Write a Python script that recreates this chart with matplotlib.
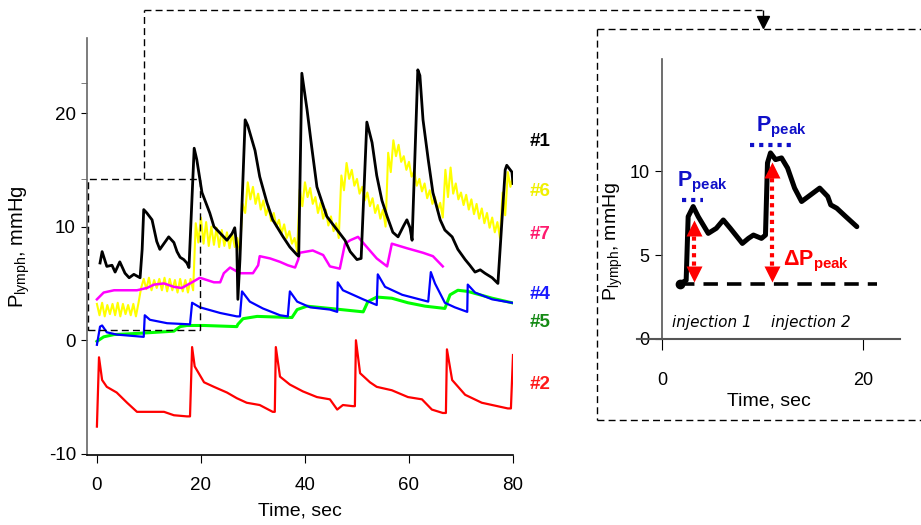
import numpy as np
import matplotlib
matplotlib.use("Agg")
import matplotlib.pyplot as plt
from matplotlib.lines import Line2D

plt.rcParams['font.family'] = ['Liberation Sans', 'DejaVu Sans']
plt.rcParams['mathtext.fontset'] = 'custom'
plt.rcParams['mathtext.rm'] = 'Liberation Sans'
plt.rcParams['mathtext.it'] = 'Liberation Sans:italic'
plt.rcParams['mathtext.bf'] = 'Liberation Sans:bold'
plt.rcParams['axes.unicode_minus'] = False

# ---- main panel traces (time in sec, pressure in mmHg) ----
t1 = [0.6, 1.0, 1.9, 2.9, 3.5, 4.4, 5.4, 6.2, 7.1, 8.3, 8.7, 9.0, 9.6, 10.6, 11.5, 12.1,
      13.8, 14.8, 15.4, 16.0, 16.7, 17.3, 17.7, 18.7, 19.2, 20.2, 21.7, 22.5, 25.0, 26.0,
      26.5, 26.9, 27.1, 27.5, 28.5, 29.0, 30.4, 31.3, 32.7, 33.8, 35.8, 37.1, 38.5, 38.8,
      39.4, 40.4, 41.3, 42.3, 44.2, 46.2, 47.7, 48.7, 50.0, 50.8, 51.9, 52.9, 53.8, 54.8,
      55.8, 56.9, 57.9, 59.0, 59.6, 60.2, 60.6, 61.7, 62.1, 62.7, 63.7, 64.6, 66.0, 66.9,
      68.3, 69.4, 70.8, 71.7, 72.7, 73.7, 74.6, 76.0, 77.1, 78.5, 78.8, 79.8, 80.0]
p1 = [6.8, 7.8, 6.5, 6.6, 6.0, 6.9, 5.9, 5.5, 5.8, 5.5, 8.0, 11.5, 11.2, 10.6, 8.7, 8.0,
      9.1, 8.6, 7.8, 7.3, 7.1, 6.8, 6.4, 16.9, 15.9, 13.0, 11.2, 10.0, 8.8, 9.4,
      9.9, 8.2, 3.6, 7.1, 19.4, 18.9, 16.7, 14.4, 12.1, 10.6, 9.1, 8.2, 7.5, 7.4,
      23.5, 20.3, 17.0, 13.5, 10.9, 9.7, 8.8, 7.8, 7.1, 7.2, 19.2, 17.4, 14.5, 12.3,
      10.9, 9.5, 9.1, 10.1, 10.6, 9.9, 8.8, 23.8, 23.3, 19.4, 15.9, 13.0, 10.6, 9.7,
      9.1, 8.0, 7.1, 6.6, 6.0, 6.2, 5.9, 5.5, 5.0, 15.0, 15.4, 14.8, 13.8]

# #6 is a noisy trace: upper values at whole seconds, lower values half a second later
t6 = np.arange(0, 81)
p6_hi = [3.2, 3.3, 3.1, 3.2, 3.3, 3.2, 3.1, 3.2, 3.3,
         5.4, 5.5, 5.3, 5.4, 5.5, 5.4, 5.3, 5.4, 5.3, 5.4,
         10.3, 10.8, 10.4, 10.0, 9.9, 9.7, 9.5, 9.4,
         9.0, 12.0, 13.9, 13.5, 12.9, 12.3, 11.8, 11.2, 10.6, 10.2, 9.6, 9.0,
         13.3, 13.9, 13.4, 12.6, 12.1, 11.5, 10.9, 10.3,
         14.5, 15.6, 15.0, 14.2, 13.5, 13.0, 12.5, 11.9, 11.5,
         16.5, 17.6, 17.2, 16.2, 15.7, 14.9, 14.2, 13.8, 13.2, 12.6, 12.1,
         15.0, 15.2, 13.8, 13.0, 12.8, 12.4, 12.0, 11.6, 11.2, 10.8, 10.4,
         13.0, 14.8, 14.5]
p6_lo = [2.2, 2.1, 2.3, 2.2, 2.1, 2.3, 2.2, 2.1,
         4.6,
         4.5, 4.4, 4.6, 4.4, 4.3, 4.4, 4.2, 4.3, 4.2,
         4.4,
         8.6, 8.5, 8.3, 8.4, 8.2, 8.3, 8.1, 8.2,
         7.8,
         11.2, 12.4, 12.0, 11.5, 11.0, 10.5, 10.0, 9.4, 9.0, 8.5,
         7.8,
         11.8, 12.6, 12.0, 11.2, 10.7, 10.1, 9.6,
         9.0,
         13.2, 14.2, 13.6, 12.9, 12.3, 11.8, 11.2, 10.7,
         10.0,
         14.8, 16.2, 15.7, 15.0, 14.4, 13.6, 13.1, 12.5, 12.0, 11.4,
         10.8,
         12.6, 12.9, 12.4, 11.9, 11.5, 11.1, 10.7, 10.3, 9.9, 9.5,
         9.0,
         11.0, 13.5]

t7 = [0.0, 1.3, 3.3, 7.7, 9.6, 11.0, 12.9, 14.8, 16.3, 17.9, 19.8, 22.5, 23.7, 24.4,
      25.6, 27.5, 30.0, 31.0, 31.3, 33.3, 35.2, 36.7, 38.1, 38.7, 39.0, 41.5, 43.5,
      44.8, 46.7, 47.7, 48.7, 50.2, 51.9, 53.8, 55.8, 56.7, 59.6, 62.7, 64.6, 66.5]
p7 = [3.6, 4.2, 4.4, 4.4, 4.6, 4.9, 5.0, 4.7, 4.6, 5.0, 5.5, 5.1, 5.1, 5.9,
      6.4, 5.9, 5.9, 6.6, 7.4, 7.2, 6.9, 6.6, 6.4, 7.1, 7.7, 7.9, 7.5,
      6.5, 6.3, 8.5, 8.8, 9.1, 8.2, 7.2, 6.5, 8.5, 8.1, 7.7, 7.4, 6.5]

t4 = [0.0, 0.6, 1.0, 1.9, 3.8, 9.0, 9.2, 10.2, 13.5, 17.9, 18.3, 19.8, 23.7, 26.9,
      27.5, 27.9, 29.4, 31.9, 35.2, 36.7, 37.1, 38.5, 41.0, 44.8, 46.2, 46.3, 47.3,
      51.2, 53.8, 54.0, 55.4, 58.7, 63.7, 64.2, 65.0, 66.9, 68.8, 71.2, 71.3, 72.7,
      76.0, 79.8]
p4 = [-0.4, 1.2, 1.3, 0.7, 0.5, 0.3, 2.2, 1.8, 1.5, 1.4, 3.3, 2.9, 2.4, 2.1,
      2.1, 4.3, 3.4, 2.8, 2.2, 2.1, 4.3, 3.4, 2.9, 2.7, 2.5, 5.1, 4.4,
      3.6, 3.1, 5.8, 4.7, 4.0, 3.4, 6.0, 5.0, 3.3, 2.9, 2.5, 4.9, 4.2,
      3.6, 3.3]

t5 = [0.0, 1.3, 3.3, 7.7, 14.8, 16.0, 17.3, 20.6, 26.9, 27.1, 28.1, 30.8, 37.5, 38.5,
      40.4, 44.8, 51.2, 52.1, 53.8, 56.7, 59.8, 63.1, 66.9, 67.9, 69.4, 71.3, 76.0, 79.8]
p5 = [-0.1, 0.3, 0.5, 0.6, 0.8, 1.2, 1.3, 1.3, 1.2, 1.4, 1.9, 2.1, 2.0, 2.7,
      3.0, 2.8, 2.5, 3.4, 3.8, 3.7, 3.3, 3.0, 2.8, 4.0, 4.4, 4.3, 3.7, 3.3]

t2 = [0.0, 0.4, 1.0, 1.9, 3.8, 5.8, 7.7, 9.6, 12.9, 14.8, 17.3, 17.9, 18.3, 18.8, 20.6,
      22.5, 25.0, 26.9, 28.8, 31.3, 33.8, 34.2, 34.4, 35.2, 37.1, 39.6, 42.3, 44.8,
      46.2, 47.3, 49.2, 49.6, 49.8, 50.6, 52.5, 53.8, 56.7, 59.8, 62.5, 64.4, 66.5,
      67.1, 67.3, 68.3, 70.8, 74.0, 79.0, 79.6, 80.0]
p2 = [-7.6, -1.5, -3.5, -4.1, -4.6, -5.5, -6.3, -6.3, -6.3, -6.6, -6.7, -6.7, -0.6, -2.3,
      -3.7, -4.1, -4.6, -5.1, -5.5, -5.7, -6.3, -6.3, -0.6, -3.2, -3.9, -4.5, -5.0, -5.2,
      -6.1, -5.7, -5.8, -5.8, 0.0, -2.9, -3.7, -4.1, -4.4, -5.0, -5.2, -6.1, -6.4,
      -6.4, -0.8, -3.5, -4.8, -5.5, -6.0, -6.0, -1.3]

# ---- inset: one trace ----
ti = [1.8, 2.4, 2.6, 3.1, 3.6, 4.6, 5.4, 6.1, 6.8, 8.0, 8.6, 9.1, 9.9, 10.3, 10.5, 10.8,
      11.3, 11.9, 12.5, 13.2, 13.9, 14.8, 15.7, 16.5, 16.8, 17.4, 18.3, 19.4]
pi_ = [3.3, 3.5, 7.3, 7.9, 7.3, 6.3, 6.6, 7.1, 6.6, 5.7, 6.0, 6.2, 6.0, 6.2, 10.5, 11.1,
       10.7, 10.8, 10.2, 9.0, 8.2, 8.6, 9.0, 8.5, 8.0, 7.8, 7.3, 6.7]
baseline = 3.3
peak_levels = [8.3, 11.6]
peak_spans = [(2.0, 4.1), (8.8, 13.0)]
arrow_t = [3.2, 11.0]
arrow_top = [6.6, 10.1]

trace_labels = ['#1', '#6', '#7', '#4', '#5', '#2']
label_y = [17.5, 13.1, 9.3, 4.0, 1.6, -3.9]
label_colors = ['black', '#f0f000', '#ff1a6e', '#1a1aff', '#158a15', '#ff1a1a']

fig = plt.figure(figsize=(9.21, 5.25), dpi=100)

# ---------------- main axes ----------------
ax = fig.add_axes([0.0945, 0.1333, 0.4625, 0.7943])
ax.plot(t5, p5, color='#00ff00', lw=2.2, zorder=2)
ax.plot(t4, p4, color='#0000ff', lw=1.6, zorder=3)
ax.plot(t2, p2, color='#ff0000', lw=1.6, zorder=3)
x6 = np.empty(len(p6_hi) + len(p6_lo))
y6 = np.empty_like(x6)
x6[0::2] = t6
x6[1::2] = t6[:-1] + 0.5
y6[0::2] = p6_hi
y6[1::2] = p6_lo
ax.plot(x6, y6, color='#ffff00', lw=1.5, zorder=3)
ax.plot(t7, p7, color='#ff00ff', lw=1.8, zorder=4)
ax.plot(t1, p1, color='black', lw=2.0, zorder=5)

ax.set_xlim(-1.9, 80)
ax.set_ylim(-10.1, 26.6)
ax.set_xticks([0, 20, 40, 60, 80])
ax.set_yticks([-10, 0, 10, 20])
ax.set_yticks([14.2, 22.6], minor=True)
ax.tick_params(axis='both', labelsize=13.5, direction='out')
ax.tick_params(axis='y', length=4, pad=4)
ax.tick_params(axis='y', which='minor', length=4, color='#666666')
ax.tick_params(axis='x', length=6, pad=10)
for s in ['top', 'right']:
    ax.spines[s].set_visible(False)
ax.spines['left'].set_color('#666666')
ax.spines['left'].set_linewidth(1.2)
ax.spines['bottom'].set_linewidth(1.2)
ax.set_xlabel('Time, sec', fontsize=14, labelpad=6)
ax.set_ylabel(r'P$_{\mathrm{lymph}}$, mmHg', fontsize=14.5, labelpad=12)

for lab, yy, c in zip(trace_labels, label_y, label_colors):
    ax.text(83.2, yy, lab, color=c, fontsize=13.5, fontweight='bold',
            ha='left', va='center', clip_on=False)

# dashed zoom box on the first 20 s
ax.add_patch(plt.Rectangle((-1.7, 0.9), 21.5, 13.3, fill=False, ls=(0, (5, 3)),
                           lw=1.0, ec='black', clip_on=False, zorder=6))

# ---------------- inset axes ----------------
ins = fig.add_axes([0.6916, 0.3543, 0.2856, 0.5333])
ins.plot(ti, pi_, color='black', lw=3.6, solid_capstyle='round', zorder=4)
ins.plot([ti[0]], [pi_[0]], 'o', color='black', ms=6, zorder=4)
ins.plot([1.8, 21.4], [baseline, baseline], color='black', lw=2.6,
         ls=(0, (4, 2.5)), zorder=3)
for lvl, (a, b) in zip(peak_levels, peak_spans):
    ins.plot([a, b], [lvl, lvl], color='#1010c8', lw=3.0, ls=(0, (1, 1.2)), zorder=3)
for at, top in zip(arrow_t, arrow_top):
    ins.plot([at, at], [baseline + 0.6, top], color='#ff0000', lw=3.0,
             ls=(0, (1, 1)), zorder=5)
    ins.plot([at], [top], marker='^', color='#ff0000', ms=11, zorder=6, mec='none')
    ins.plot([at], [baseline + 0.6], marker='v', color='#ff0000', ms=11, zorder=6, mec='none')

ins.text(1.5, 9.1, r'$\mathbf{P_{peak}}$', color='#1010c8', fontsize=15.5)
ins.text(9.4, 12.4, r'$\mathbf{P_{peak}}$', color='#1010c8', fontsize=15.5)
ins.text(12.0, 4.4, r'$\mathbf{\Delta P_{peak}}$', color='#ff0000', fontsize=15.5)
ins.text(1.0, 1.0, 'injection 1', fontsize=11, style='italic', family='DejaVu Sans',
         ha='left', va='center')
ins.text(10.9, 1.0, 'injection 2', fontsize=11, style='italic', family='DejaVu Sans',
         ha='left', va='center')

ins.set_xlim(-2.5, 23.7)
ins.set_ylim(0, 16.7)
ins.set_xticks([0, 20])
ins.set_yticks([0, 5, 10])
ins.spines['left'].set_position(('data', 0))
for s in ['top', 'right']:
    ins.spines[s].set_visible(False)
ins.spines['left'].set_color('#555555')
ins.spines['left'].set_linewidth(1.2)
ins.spines['bottom'].set_color('#555555')
ins.spines['bottom'].set_linewidth(1.5)
ins.tick_params(axis='both', labelsize=13, direction='out')
ins.tick_params(axis='y', length=5, pad=4)
ins.tick_params(axis='x', length=8, pad=16)
ins.set_xlabel('Time, sec', fontsize=14, labelpad=2)
ins.set_ylabel(r'P$_{\mathrm{lymph}}$, mmHg', fontsize=14, labelpad=4)
ins.yaxis.set_label_coords(-0.045, 0.35)


# ---------------- connector and inset frame (figure coords) ----------------
def fpt(px, py):
    return px / 921, 1 - py / 525


def dashed(p0, p1):
    (x0, y0), (x1, y1) = fpt(*p0), fpt(*p1)
    fig.add_artist(Line2D([x0, x1], [y0, y1], color='black', lw=1.0,
                          ls=(0, (5, 3)), transform=fig.transFigure))


dashed((144, 179), (144, 10))
dashed((144, 10), (763, 10))
dashed((763, 10), (763, 18))
ax_, ay_ = fpt(763, 22)
fig.add_artist(Line2D([ax_], [ay_], marker='v', color='black', ms=8,
                      transform=fig.transFigure))
dashed((597, 29), (921, 29))
dashed((597, 29), (597, 420))
dashed((597, 420), (921, 420))

fig.savefig('out.png', dpi=100)
